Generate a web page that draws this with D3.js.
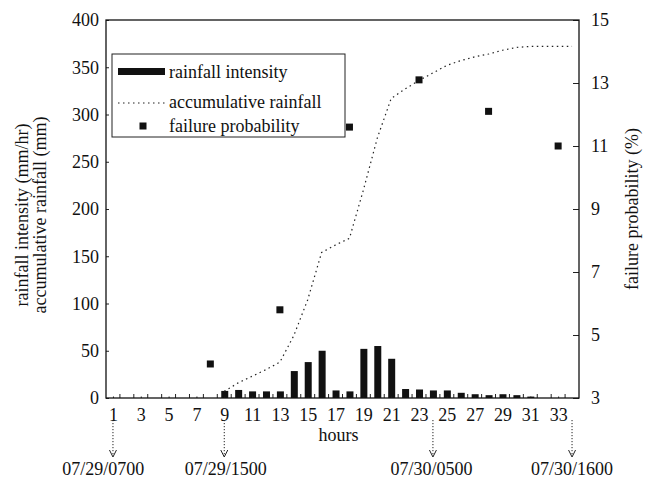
<!DOCTYPE html>
<html>
<head>
<meta charset="utf-8">
<script src="https://cdn.jsdelivr.net/npm/d3@7"></script>
<style>
  body { margin: 0; background: #fff; }
  svg text { font-family: "Liberation Serif", "Times New Roman", serif; fill: #111; }
</style>
</head>
<body>
<div id="chart"></div>
<script>
// hours 1..34
const hours = [1,2,3,4,5,6,7,8,9,10,11,12,13,14,15,16,17,18,19,20,21,22,23,24,25,26,27,28,29,30,31,32,33,34];
// rainfall intensity (mm/hr)
const intensity = [0,0,0,0,0,0,0,0,7.5,8.5,7,7,7,28.5,38,50,8,7,52,55,41.5,9.5,9,8,8,5.5,4,3,4,3,1.5,0,0,0];
// accumulative rainfall (mm), starts at hour 9
const accumHours = [9,10,11,12,13,14,15,16,17,18,19,20,21,22,23,24,25,26,27,28,29,30,31,32,33,34];
const accum = [7,16,23,30,38,66,104,154,162,169,220,275,317,327,336,344,352,357,361,364,368,371,372,372,372,372];
// failure probability (%)
const failHours = [8,13,18,23,28,33];
const failProb = [4.08,5.8,11.6,13.1,12.1,11.0];

const xTicks = [1,3,5,7,9,11,13,15,17,19,21,23,25,27,29,31,33];
const leftTicks = [0,50,100,150,200,250,300,350,400];
const rightTicks = [3,5,7,9,11,13,15];

const arrowHours = [1,9,24,34];
const dateLabels = ['07/29/0700','07/29/1500','07/30/0500','07/30/1600'];
const dateLabelHours = [0.3,9.1,23.9,34];

const width = 651, height = 482;
const margin = {top: 20, right: 72, bottom: 84, left: 106};

const svg = d3.select('#chart').append('svg')
  .attr('width', width)
  .attr('height', height);

const x = d3.scaleLinear().domain([0.5, 34.5]).range([margin.left, width - margin.right]);
const yL = d3.scaleLinear().domain([0, 400]).range([height - margin.bottom, margin.top]);
const yR = d3.scaleLinear().domain([3, 15]).range([height - margin.bottom, margin.top]);

const x0 = x.range()[0], x1 = x.range()[1];
const yb = yL.range()[0], yt = yL.range()[1];

// bars
svg.append('g').selectAll('rect')
  .data(hours.map((h, i) => ({h, v: intensity[i]})).filter(d => d.v > 0))
  .join('rect')
  .attr('x', d => x(d.h) - 3)
  .attr('width', 7)
  .attr('y', d => yL(d.v))
  .attr('height', d => yb - yL(d.v))
  .attr('fill', '#111');

// accumulative line
const line = d3.line().x(d => x(d[0])).y(d => yL(d[1]));
svg.append('path')
  .datum(accumHours.map((h, i) => [h, accum[i]]))
  .attr('d', line)
  .attr('fill', 'none')
  .attr('stroke', '#222')
  .attr('stroke-width', 1.2)
  .attr('stroke-dasharray', '1.5,3.5');

// failure probability squares
svg.append('g').selectAll('rect')
  .data(failHours.map((h, i) => ({h, v: failProb[i]})))
  .join('rect')
  .attr('x', d => x(d.h) - 3.5)
  .attr('y', d => yR(d.v) - 3.5)
  .attr('width', 7)
  .attr('height', 7)
  .attr('fill', '#111');

// axes
const leftAxis = d3.axisLeft(yL).tickValues(leftTicks).tickSize(-3).tickPadding(7);
const gL = svg.append('g').attr('transform', `translate(${x0},0)`).call(leftAxis);
const rightAxis = d3.axisRight(yR).tickValues(rightTicks).tickSize(-6).tickPadding(12);
const gR = svg.append('g').attr('transform', `translate(${x1},0)`).call(rightAxis);
const bottomAxis = d3.axisBottom(x).tickValues(xTicks).tickSize(-1.5).tickPadding(10);
const gB = svg.append('g').attr('transform', `translate(0,${yb})`).call(bottomAxis);

[gL, gR, gB].forEach(g => {
  g.select('.domain').remove();
  g.selectAll('line').attr('stroke', '#222');
  g.selectAll('text').style('font-size', '18px').attr('fill', '#111');
});

// minor ticks at half hours
const halfTicks = hours.slice(0, 33).map(h => h + 0.5);
svg.append('g').selectAll('line')
  .data(halfTicks)
  .join('line')
  .attr('x1', d => x(d)).attr('x2', d => x(d))
  .attr('y1', yb).attr('y2', yb - 4)
  .attr('stroke', '#222');

// frame
svg.append('rect')
  .attr('x', x0).attr('y', yt)
  .attr('width', x1 - x0).attr('height', yb - yt)
  .attr('fill', 'none')
  .attr('stroke', '#111')
  .attr('stroke-width', 1.3);

// axis titles
const midY = (yt + yb) / 2 + 6;
svg.append('text')
  .attr('transform', `translate(28,${midY}) rotate(-90)`)
  .attr('text-anchor', 'middle')
  .style('font-size', '18px')
  .text('rainfall intensity (mm/hr)');
svg.append('text')
  .attr('transform', `translate(46,${midY}) rotate(-90)`)
  .attr('text-anchor', 'middle')
  .style('font-size', '18px')
  .text('accumulative rainfall (mm)');
svg.append('text')
  .attr('transform', `translate(638,${(yt + yb) / 2}) rotate(-90)`)
  .attr('text-anchor', 'middle')
  .style('font-size', '18px')
  .text('failure probability (%)');
svg.append('text')
  .attr('x', (x0 + x1) / 2 - 4)
  .attr('y', 441)
  .attr('text-anchor', 'middle')
  .style('font-size', '18px')
  .text('hours');

// arrows to dates
const arrows = svg.append('g');
arrowHours.forEach(h => {
  const ax = x(h);
  arrows.append('line')
    .attr('x1', ax).attr('x2', ax)
    .attr('y1', 420).attr('y2', 456)
    .attr('stroke', '#222')
    .attr('stroke-dasharray', '1.2,1.8');
  arrows.append('path')
    .attr('d', `M${ax - 3.5},${450} L${ax},${457} L${ax + 3.5},${450}`)
    .attr('fill', 'none')
    .attr('stroke', '#222');
});
svg.append('g').selectAll('text')
  .data(dateLabels)
  .join('text')
  .attr('x', (d, i) => x(dateLabelHours[i]))
  .attr('y', 475)
  .attr('text-anchor', 'middle')
  .style('font-size', '18px')
  .text(d => d);

// legend
const lg = svg.append('g');
lg.append('rect')
  .attr('x', 112).attr('y', 54)
  .attr('width', 233).attr('height', 83)
  .attr('fill', '#fff')
  .attr('stroke', '#222');
lg.append('rect')
  .attr('x', 118).attr('y', 68).attr('width', 47).attr('height', 7)
  .attr('fill', '#111');
lg.append('line')
  .attr('x1', 118).attr('x2', 165).attr('y1', 103).attr('y2', 103)
  .attr('stroke', '#222').attr('stroke-width', 1.2)
  .attr('stroke-dasharray', '1.5,3.5');
lg.append('rect')
  .attr('x', 139.5).attr('y', 122.5).attr('width', 7).attr('height', 7)
  .attr('fill', '#111');
const legendText = ['rainfall intensity', 'accumulative rainfall', 'failure probability'];
const legendY = [72, 102, 126];
lg.selectAll('text.lt')
  .data(legendText)
  .join('text')
  .attr('class', 'lt')
  .attr('x', 169)
  .attr('y', (d, i) => legendY[i] + 6)
  .style('font-size', '18px')
  .text(d => d);
</script>
</body>
</html>
